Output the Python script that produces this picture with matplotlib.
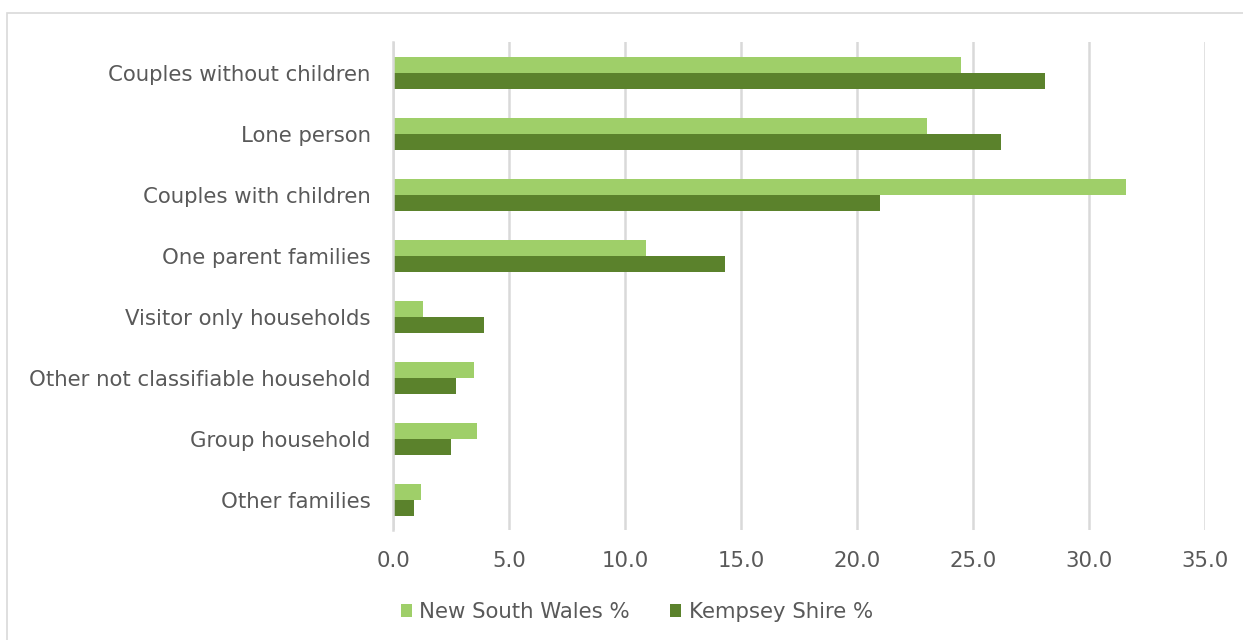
import numpy as np
import matplotlib.pyplot as plt
from matplotlib.patches import Rectangle

# Household composition, % of households
categories = ['Couples without children', 'Lone person', 'Couples with children',
              'One parent families', 'Visitor only households',
              'Other not classifiable household', 'Group household', 'Other families']
nsw = [24.5, 23.0, 31.6, 10.9, 1.3, 3.5, 3.6, 1.2]
kempsey = [28.1, 26.2, 21.0, 14.3, 3.9, 2.7, 2.5, 0.9]
xticks = [0, 5, 10, 15, 20, 25, 30, 35]

plt.rcParams['font.family'] = ['DejaVu Sans']
text_color = '#595959'
grid_color = '#d9d9d9'
fsize = 15.3

fig = plt.figure(figsize=(12.43, 6.4), dpi=100)
ax = fig.add_axes([0.3162, 0.1711, 0.9694 - 0.3162, 0.9336 - 0.1711])

# outer frame of the chart area
fig.patches.append(Rectangle((7 / 1243, -0.05), 1.1, 1 - 13 / 640 + 0.05,
                             transform=fig.transFigure, fill=False,
                             edgecolor=grid_color, linewidth=1.2))

index = np.arange(len(categories))
bar_h = 0.262
ax.barh(index - bar_h / 2, nsw, bar_h, color='#9fcf69', label='New South Wales %')
ax.barh(index + bar_h / 2, kempsey, bar_h, color='#5b822c', label='Kempsey Shire %')

ax.set_ylim(len(categories) - 0.5, -0.5)
ax.set_xlim(0, 35)
ax.set_yticks(index)
ax.set_yticklabels(categories)
ax.set_xticks(xticks)
ax.set_xticklabels(['{:.1f}'.format(v) for v in xticks])

ax.xaxis.grid(True, color=grid_color, linewidth=1.8)
ax.set_axisbelow(True)
for side in ['top', 'right', 'bottom']:
    ax.spines[side].set_visible(False)
ax.spines['left'].set_color(grid_color)
ax.spines['left'].set_linewidth(1.8)

ax.tick_params(axis='both', length=0, labelsize=fsize, colors=text_color)
ax.tick_params(axis='y', pad=16)
ax.tick_params(axis='x', pad=15)

leg = fig.legend(loc='center', bbox_to_anchor=(0.5125, 1 - 612 / 640), ncol=2,
                 frameon=False, fontsize=fsize, handlelength=0.5, handleheight=0.5,
                 handletextpad=0.35, columnspacing=1.9)
for t in leg.get_texts():
    t.set_color(text_color)

fig.savefig('out.png', dpi=100)
